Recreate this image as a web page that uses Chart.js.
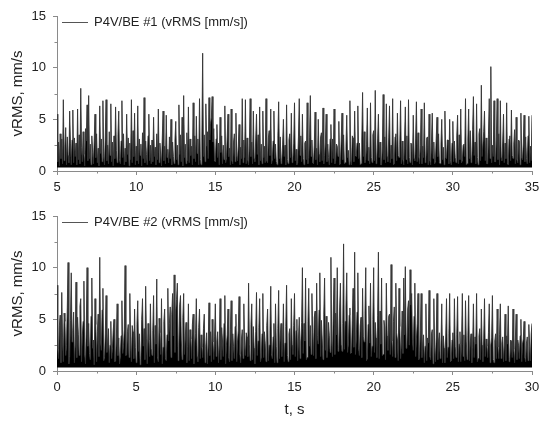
<!DOCTYPE html>
<html>
<head>
<meta charset="utf-8">
<script src="https://cdn.jsdelivr.net/npm/chart.js@4/dist/chart.umd.min.js"></script>
<style>
  html, body { margin: 0; padding: 0; background: #fff; }
  .panel { position: relative; width: 550px; }
  canvas { display: block; }
</style>
</head>
<body>
<div class="panel"><canvas id="chartBE1" width="550" height="200"></canvas></div>
<div class="panel"><canvas id="chartBE2" width="550" height="223"></canvas></div>
<script>
// vibration velocity RMS, two bearings, one value every 0.05 s (one row = 1 s)

const sampleStep = 0.05;

const t1Start = 5;
const xTicks1 = [5, 10, 15, 20, 25, 30, 35];
const vrms1 = [
  5.5,0.9,2.8,0.5,3.6,1.2,3.1,0.7,6.9,1.0,2.4,4.2,0.6,3.3,1.5,0.8,5.8,2.7,0.6,3.0,
  5.9,0.8,3.2,1.4,2.7,0.6,6.0,1.1,3.5,0.7,8.0,2.3,0.9,3.8,1.6,0.5,4.1,2.9,6.4,1.0,
  7.3,1.2,2.6,0.6,3.4,1.8,0.7,2.9,5.5,1.3,3.6,0.8,2.2,0.5,6.3,1.7,3.1,0.9,6.8,1.4,
  0.6,3.3,6.9,1.0,2.5,0.7,3.8,1.5,6.5,0.9,2.8,0.5,3.4,1.2,6.2,2.0,0.8,3.5,5.8,1.1,
  0.7,2.9,6.8,1.3,3.6,0.6,2.2,0.9,5.5,1.6,3.2,0.5,2.7,1.1,6.9,0.8,3.9,1.4,5.6,0.6,
  2.4,1.0,6.3,0.7,3.1,1.5,2.6,0.5,3.7,1.2,7.1,0.8,2.9,1.6,0.6,3.4,5.5,1.0,2.5,0.7,
  3.0,0.9,5.2,1.4,2.3,0.6,3.6,1.1,6.0,0.8,2.7,1.5,0.5,3.2,5.8,1.0,2.4,0.7,5.4,1.3,
  2.1,0.8,3.3,1.2,5.0,0.6,2.8,1.4,0.7,3.0,4.8,1.1,2.5,0.6,6.4,1.6,3.5,0.9,5.2,0.5,
  7.3,1.3,2.6,0.7,3.7,1.0,6.2,0.8,3.1,1.5,2.4,0.6,6.6,1.2,3.4,0.9,5.3,1.7,3.1,0.6,
  7.0,1.1,0.6,3.2,11.4,1.4,3.5,0.9,6.5,2.4,3.8,1.2,7.1,3.0,4.6,5.2,7.2,2.8,4.1,1.0,
  0.9,3.1,4.5,1.3,2.7,0.6,5.2,1.8,3.4,0.7,2.5,1.1,6.3,0.8,1.2,3.3,5.5,1.4,2.2,0.6,
  6.0,1.0,0.7,2.8,3.6,0.9,5.6,1.5,1.0,2.4,4.5,0.6,2.3,1.2,7.0,0.8,3.0,1.3,6.9,0.7,
  3.2,1.1,0.6,2.7,7.0,1.4,2.8,0.7,5.8,1.2,0.9,3.1,5.5,1.6,3.5,0.6,6.2,1.0,2.6,0.7,
  5.8,1.3,2.4,0.8,7.0,1.0,0.8,3.2,3.9,1.5,6.0,0.7,1.1,2.9,5.8,1.2,2.6,0.9,0.6,3.4,
  6.7,1.2,3.3,0.7,1.0,2.6,5.0,1.4,2.5,0.6,6.4,1.1,0.7,3.0,3.6,1.3,5.6,0.8,1.2,2.7,
  6.6,1.0,2.1,0.6,0.8,3.3,7.0,1.5,3.4,0.9,5.5,1.2,0.6,2.7,2.9,1.1,6.6,0.7,1.3,3.2,
  7.3,1.4,3.0,0.8,0.7,2.5,5.7,1.1,2.2,0.6,5.0,1.6,0.9,3.3,3.7,1.0,6.1,0.7,1.5,2.8,
  5.5,0.9,2.6,1.3,0.6,3.1,4.5,0.8,3.1,1.2,6.0,0.7,1.0,2.6,2.4,1.4,4.8,0.6,0.7,3.0,
  5.6,1.1,3.5,0.7,0.8,2.4,5.4,1.3,2.0,0.6,6.8,1.0,0.6,3.4,3.2,0.9,5.8,1.5,1.4,2.7,
  6.3,1.2,2.7,0.6,0.7,3.0,7.6,1.4,3.8,0.8,1.1,2.6,6.1,1.0,2.3,0.7,6.6,1.3,0.8,3.5,
  3.9,1.0,7.8,0.7,1.2,3.1,5.5,1.3,2.8,0.6,0.6,2.4,7.4,1.1,3.3,0.8,6.5,1.4,0.9,3.2,
  6.3,0.8,2.5,1.2,7.0,0.6,0.7,3.3,3.6,1.0,5.6,1.5,1.3,2.6,6.8,0.7,2.9,1.1,0.6,3.0,
  6.2,1.1,3.4,0.7,6.9,1.3,0.8,2.7,2.6,0.6,5.4,1.2,1.0,3.1,6.7,0.9,3.7,1.4,0.7,2.5,
  6.0,0.7,2.4,1.3,6.6,0.8,1.1,3.2,3.3,0.6,5.5,1.0,0.6,2.8,5.6,1.2,2.8,0.7,0.9,3.1,
  5.2,1.4,3.6,0.8,0.7,2.6,5.0,1.1,2.3,0.6,5.8,1.3,1.2,3.0,3.0,0.7,5.0,1.0,0.6,2.7,
  4.8,0.9,2.9,1.3,0.8,3.4,5.4,0.7,3.5,1.1,6.0,0.8,1.0,2.5,2.6,1.4,7.0,0.6,0.7,3.1,
  6.0,1.2,3.9,0.8,1.1,4.0,7.2,1.5,2.8,0.7,6.5,1.3,0.6,3.6,4.1,1.0,8.3,1.4,1.4,3.8,
  5.8,1.0,3.2,0.7,0.7,3.5,7.0,1.2,10.1,0.8,2.5,1.4,6.8,0.9,0.9,3.3,7.0,1.1,3.6,0.6,
  6.8,1.3,1.0,2.9,5.5,0.8,2.7,1.2,6.6,0.7,0.6,3.1,3.4,1.0,5.9,1.5,1.2,2.6,4.0,0.7,
  5.2,1.1,0.8,3.0,2.9,0.6,5.6,1.3,1.1,2.7,5.4,0.9,3.3,1.2,0.7,3.4,5.3,0.8,2.4,1.0,
  5.4
];

const t2Start = 0;
const xTicks2 = [0, 5, 10, 15, 20, 25, 30];
const vrms2 = [
  8.3,2.1,1.2,4.4,5.4,0.8,7.6,3.2,0.9,5.6,4.8,1.5,2.5,6.1,10.5,0.7,1.4,4.9,9.5,2.8,
  3.9,5.7,0.8,2.6,8.6,1.3,5.2,3.5,1.5,6.3,7.0,0.9,3.4,4.8,8.7,1.6,0.7,4.2,10.0,2.4,
  4.6,1.7,1.1,5.3,9.0,2.2,3.0,0.6,7.0,4.5,0.9,3.8,5.5,1.4,11.0,2.9,2.0,5.9,8.0,1.0,
  1.3,3.6,7.3,1.8,2.8,4.1,0.8,2.5,4.8,1.2,2.2,3.9,5.0,0.9,1.0,3.3,6.5,1.5,3.2,0.7,
  1.4,3.4,6.8,1.7,2.5,4.0,10.2,1.5,1.6,3.8,4.5,1.3,7.5,2.7,0.9,4.4,3.8,1.2,6.0,2.3,
  0.8,4.5,6.8,1.9,3.6,0.6,1.2,5.0,7.0,2.4,4.1,1.1,8.2,3.1,0.7,4.6,3.0,1.4,6.5,2.2,
  1.5,3.9,7.3,0.8,4.4,2.6,8.9,1.3,0.9,5.1,3.7,1.6,7.0,0.7,2.3,4.8,6.0,1.2,1.0,3.5,
  8.0,2.9,4.6,6.2,1.3,5.5,7.5,3.4,9.3,1.8,5.8,6.9,8.5,1.0,2.6,6.4,7.3,3.0,1.1,5.2,
  7.5,1.6,3.2,4.7,0.8,2.4,6.5,1.0,4.0,3.1,1.2,4.5,5.5,0.7,2.7,3.6,7.0,1.4,0.9,4.2,
  6.0,1.2,3.5,2.3,1.3,4.1,5.5,0.8,2.4,3.7,0.7,2.6,6.6,1.5,3.8,0.9,5.0,2.8,1.1,3.3,
  6.5,1.4,2.9,3.8,0.8,2.5,7.0,1.1,4.2,3.0,1.4,4.6,7.3,0.7,2.5,3.5,6.0,1.3,0.9,4.0,
  6.8,1.0,3.6,2.4,1.2,4.3,5.5,0.9,2.8,3.9,7.2,1.6,0.8,3.1,4.0,1.2,6.5,2.5,1.5,3.7,
  3.3,1.4,8.5,2.6,1.0,4.5,6.5,1.1,4.3,2.2,0.7,3.8,7.6,1.5,2.9,4.2,7.0,0.9,1.3,3.6,
  7.5,1.3,3.8,2.7,0.9,4.4,6.0,1.0,2.5,3.9,8.2,1.6,1.2,3.3,4.6,0.8,6.5,2.4,0.8,4.1,
  7.8,1.2,3.4,4.6,1.4,2.8,6.5,0.9,2.7,4.3,8.3,1.5,0.9,3.6,4.1,1.1,7.0,2.5,1.6,4.4,
  7.5,1.4,3.9,5.0,1.0,3.1,5.2,1.2,2.8,4.7,10.0,1.7,4.6,2.9,9.0,1.1,1.3,4.8,8.0,2.4,
  4.4,1.6,7.5,3.7,1.5,5.2,5.8,1.2,8.5,3.4,2.6,5.9,9.5,1.4,4.9,3.1,1.1,5.5,9.0,2.0,
  5.3,1.3,2.0,4.7,3.4,1.8,11.0,2.9,1.4,5.8,9.0,1.6,5.6,3.5,10.0,1.9,2.2,6.1,8.5,2.6,
  1.9,4.6,12.3,2.1,4.8,6.3,9.5,1.8,2.6,5.4,6.1,1.7,1.8,4.9,8.0,2.3,11.5,1.6,3.0,5.7,
  9.5,2.2,1.5,4.4,5.2,1.3,8.0,3.3,2.8,5.6,10.0,1.0,1.2,4.5,6.3,2.7,8.5,1.4,2.4,5.0,
  10.0,1.8,4.7,3.2,1.3,5.4,11.5,1.2,5.8,2.6,9.0,1.5,1.6,4.9,4.2,1.1,8.5,3.4,2.0,5.3,
  5.5,1.6,10.3,2.9,1.4,4.8,6.2,1.3,8.5,3.7,3.0,1.0,8.0,4.3,1.2,2.8,5.8,1.7,9.0,3.5,
  10.1,2.2,2.4,6.0,6.8,2.5,9.8,6.4,7.5,3.0,2.0,5.3,8.5,1.4,3.1,4.6,7.5,1.1,1.3,3.9,
  7.5,1.3,2.6,3.5,0.8,2.4,6.5,1.0,3.2,2.7,7.8,1.4,1.1,3.6,4.0,0.7,7.0,2.3,0.9,3.2,
  7.5,1.1,2.9,3.7,1.2,2.5,6.5,0.8,3.4,2.2,0.8,3.3,7.0,1.3,2.3,3.6,7.5,0.9,1.0,3.0,
  3.7,1.2,7.0,2.4,1.3,3.5,7.2,0.9,2.6,3.8,0.9,2.7,7.5,1.4,3.5,1.0,6.8,2.9,1.1,3.4,
  7.3,1.0,2.8,3.6,0.8,2.3,6.5,1.3,3.3,2.6,7.5,0.9,1.2,3.4,4.1,1.1,6.0,2.5,0.9,3.1,
  7.0,1.4,3.1,2.4,1.3,3.7,6.5,0.8,2.5,3.2,7.3,1.1,0.8,2.9,3.6,1.2,6.0,2.3,1.2,3.5,
  6.5,1.2,2.7,3.3,0.9,2.5,5.5,1.0,3.4,2.6,6.3,0.9,1.1,3.0,2.9,1.3,6.0,2.1,0.8,3.2,
  5.5,1.1,3.0,2.5,1.2,3.4,5.0,0.9,2.6,3.1,4.8,1.3,0.9,2.7,3.3,1.0,4.5,2.4,1.0,3.6,
  4.6
];

const yTicks = [0, 5, 10, 15];
const label1 = 'P4V/BE #1 (vRMS [mm/s])';
const label2 = 'P4V/BE #2 (vRMS [mm/s])';

const axisColor = '#8a8a8a';
const textColor = '#222222';
const fontFamily = '"Liberation Sans", Arial, sans-serif';

// small ticks halfway between the labelled ones
const minorTicks = {
  id: 'minorTicks',
  afterDraw(chart) {
    const { ctx, scales: { x, y } } = chart;
    ctx.save();
    ctx.strokeStyle = axisColor;
    ctx.lineWidth = 1;
    ctx.beginPath();
    for (let i = 0; i < x.ticks.length - 1; i++) {
      const v = (x.ticks[i].value + x.ticks[i + 1].value) / 2;
      const px = Math.round(x.getPixelForValue(v)) + 0.5;
      ctx.moveTo(px, x.top);
      ctx.lineTo(px, x.top + 2.5);
    }
    for (let i = 0; i < y.ticks.length - 1; i++) {
      const v = (y.ticks[i].value + y.ticks[i + 1].value) / 2;
      const py = Math.round(y.getPixelForValue(v)) + 0.5;
      ctx.moveTo(y.right, py);
      ctx.lineTo(y.right - 2.5, py);
    }
    ctx.stroke();
    ctx.restore();
  }
};

// legend drawn inside the plot: short line + text
const lineLegend = {
  id: 'lineLegend',
  afterDraw(chart) {
    const { ctx, chartArea } = chart;
    const ds = chart.data.datasets[0];
    const yy = chartArea.top + 6.5;
    ctx.save();
    ctx.strokeStyle = '#555';
    ctx.lineWidth = 1;
    ctx.beginPath();
    ctx.moveTo(chartArea.left + 5, yy);
    ctx.lineTo(chartArea.left + 31, yy);
    ctx.stroke();
    ctx.fillStyle = textColor;
    ctx.font = '13px ' + fontFamily;
    ctx.textBaseline = 'middle';
    ctx.fillText(ds.label, chartArea.left + 37, yy);
    ctx.restore();
  }
};

function makePanel(canvasId, label, tStart, values, xTicks, xAxisHeight, showXTitle) {
  const points = values.map((v, i) => ({ x: tStart + i * sampleStep, y: v }));
  return new Chart(document.getElementById(canvasId), {
    type: 'line',
    data: {
      datasets: [{
        label: label,
        data: points,
        borderColor: '#333',
        borderWidth: 0.9,
        backgroundColor: '#000',
        fill: { value: 0.35 },
        pointRadius: 0,
        tension: 0
      }]
    },
    options: {
      responsive: false,
      animation: false,
      events: [],
      layout: { padding: { top: 16, right: 18, bottom: 0, left: 0 } },
      plugins: { legend: { display: false }, tooltip: { enabled: false } },
      scales: {
        x: {
          type: 'linear',
          min: xTicks[0],
          max: xTicks[xTicks.length - 1],
          afterBuildTicks: s => { s.ticks = xTicks.map(v => ({ value: v })); },
          afterFit: s => { s.height = xAxisHeight; },
          border: { display: true, color: axisColor, width: 1 },
          grid: { display: true, drawOnChartArea: false, drawTicks: true, tickLength: 4, color: axisColor },
          ticks: { color: textColor, padding: 5, maxRotation: 0, font: { family: fontFamily, size: 13 } },
          title: {
            display: showXTitle,
            text: 't, s',
            color: textColor,
            padding: { top: 0, bottom: 4 },
            font: { family: fontFamily, size: 15 }
          }
        },
        y: {
          min: yTicks[0],
          max: yTicks[yTicks.length - 1],
          afterBuildTicks: s => { s.ticks = yTicks.map(v => ({ value: v })); },
          afterFit: s => { s.width = 57; },
          border: { display: true, color: axisColor, width: 1 },
          grid: { display: true, drawOnChartArea: false, drawTicks: true, tickLength: 4, color: axisColor },
          ticks: { color: textColor, padding: 7, font: { family: fontFamily, size: 13 } },
          title: {
            display: true,
            text: 'vRMS, mm/s',
            color: textColor,
            padding: { top: 9, bottom: 0 },
            font: { family: fontFamily, size: 15 }
          }
        }
      }
    },
    plugins: [minorTicks, lineLegend]
  });
}

makePanel('chartBE1', label1, t1Start, vrms1, xTicks1, 29, false);
makePanel('chartBE2', label2, t2Start, vrms2, xTicks2, 52, true);
</script>
</body>
</html>
